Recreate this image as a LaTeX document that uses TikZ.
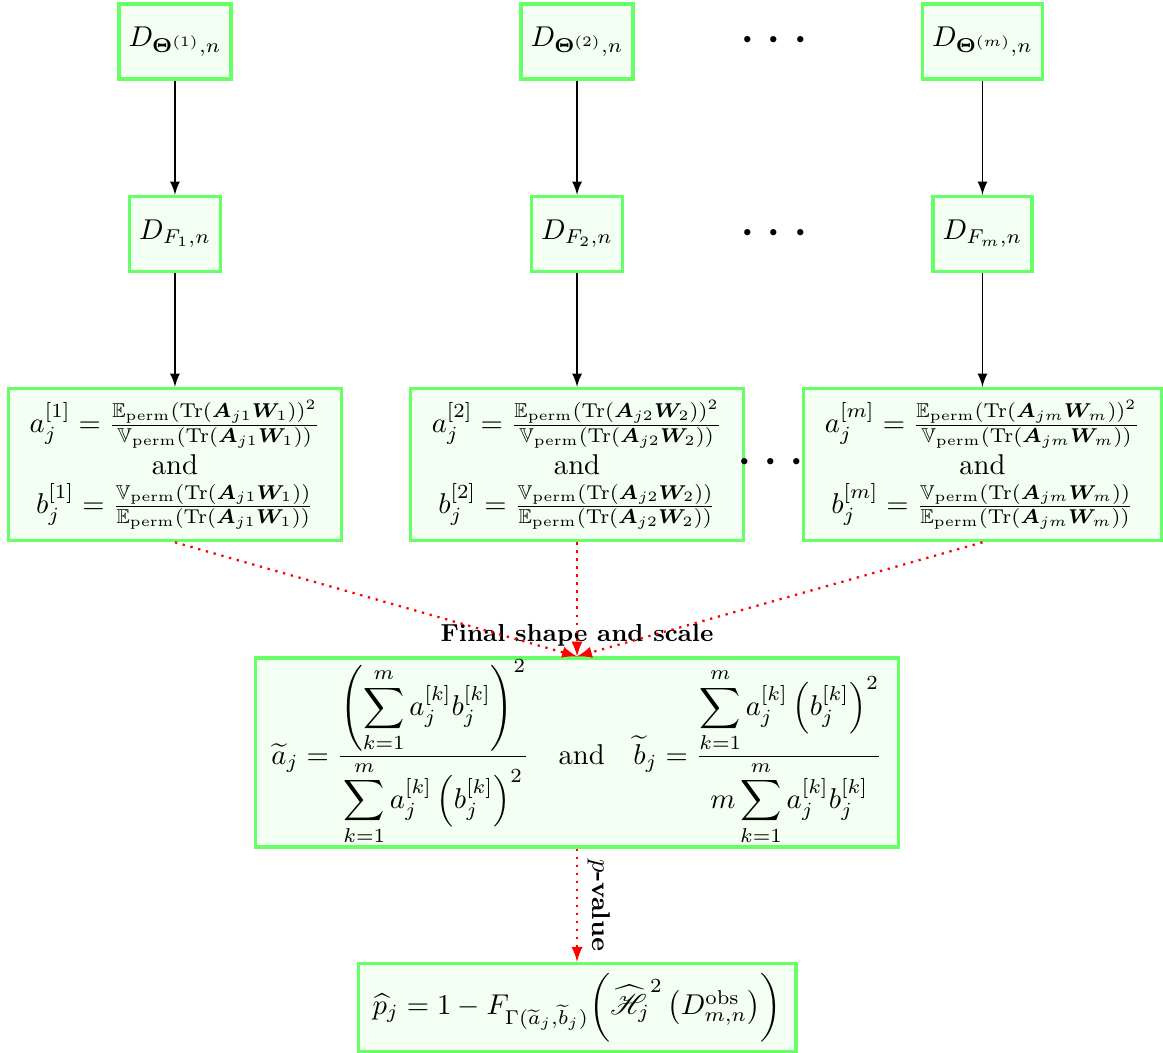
\documentclass[tikz,border=0pt]{standalone}
\usepackage{amsmath,amssymb,bm}
\usepackage{mathrsfs}
\usetikzlibrary{arrows}
\begin{document}
\begin{tikzpicture}[
        stat/.style={rectangle, draw=green!60, fill=green!5, very thick, minimum height=0.92cm, align=center},
        dots/.style={inner sep=0pt, font=\huge}
    ]
        \useasboundingbox (0,0) rectangle (14.27,-12.92);
        % Samples
        \node[stat] (th1) at (2.147,-0.509) {$D_{\bm{\Theta}^{(1)},n}$};
        \node[stat] (th2) at (7.080,-0.509) {$D_{\bm{\Theta}^{(2)},n}$};
        \node[dots] (dt1) at (9.56,-0.509) {$\cdots$};
        \node[stat] (th3) at (12.055,-0.509) {$D_{\bm{\Theta}^{(m)},n}$};
        
        % Distances
        \node[stat] (f1) at (2.147,-2.871) {$D_{F_1,n}$};
        \node[stat] (f2) at (7.080,-2.871) {$D_{F_2,n}$};
        \node[dots] (dt2) at (9.56,-2.871) {$\cdots$};
        \node[stat] (f3) at (12.055,-2.871) {$D_{F_m,n}$};
        
        % Shape and scale
        \node[stat, inner xsep=7.5pt, inner ysep=4pt] (ab1) at (2.147,-5.70) {$a_j^{[1]} = \frac{\mathbb{E}_{\mathrm{perm}}(\mathrm{Tr}(\bm{A}_{j1}\bm{W}_1))^2}{\mathbb{V}_{\mathrm{perm}}(\mathrm{Tr}(\bm{A}_{j1}\bm{W}_1))}$ \\[1.5pt] and \\[1.5pt] $b_j^{[1]} = \frac{\mathbb{V}_{\mathrm{perm}}(\mathrm{Tr}(\bm{A}_{j1}\bm{W}_1))}{\mathbb{E}_{\mathrm{perm}}(\mathrm{Tr}(\bm{A}_{j1}\bm{W}_1))}$};
        \node[stat, inner xsep=7.5pt, inner ysep=4pt] (ab2) at (7.080,-5.70) {$a_j^{[2]} = \frac{\mathbb{E}_{\mathrm{perm}}(\mathrm{Tr}(\bm{A}_{j2}\bm{W}_2))^2}{\mathbb{V}_{\mathrm{perm}}(\mathrm{Tr}(\bm{A}_{j2}\bm{W}_2))}$ \\[1.5pt] and \\[1.5pt] $b_j^{[2]} = \frac{\mathbb{V}_{\mathrm{perm}}(\mathrm{Tr}(\bm{A}_{j2}\bm{W}_2))}{\mathbb{E}_{\mathrm{perm}}(\mathrm{Tr}(\bm{A}_{j2}\bm{W}_2))}$};
        \node[stat, inner xsep=7.5pt, inner ysep=4pt] (ab3) at (12.055,-5.70) {$a_j^{[m]} = \frac{\mathbb{E}_{\mathrm{perm}}(\mathrm{Tr}(\bm{A}_{jm}\bm{W}_m))^2}{\mathbb{V}_{\mathrm{perm}}(\mathrm{Tr}(\bm{A}_{jm}\bm{W}_m))}$ \\[1.5pt] and \\[1.5pt] $b_j^{[m]} = \frac{\mathbb{V}_{\mathrm{perm}}(\mathrm{Tr}(\bm{A}_{jm}\bm{W}_m))}{\mathbb{E}_{\mathrm{perm}}(\mathrm{Tr}(\bm{A}_{jm}\bm{W}_m))}$};
        \node[dots] (dt3) at (9.52,-5.68) {$\cdots$};
        
        % Final
        \node[stat, inner xsep=5.6pt, inner ysep=0.5pt] (fin) at (7.080,-9.233) {$\displaystyle \widetilde{a}_j = \frac{\displaystyle\left(\sum_{k=1}^m a_j^{[k]} b_j^{[k]}\right)^2}{\displaystyle\sum_{k=1}^m a_j^{[k]}\left(b_j^{[k]}\right)^2} \quad \text{and} \quad \widetilde{b}_j = \frac{\displaystyle\sum_{k=1}^m a_j^{[k]}\left(b_j^{[k]}\right)^2}{\displaystyle m\sum_{k=1}^m a_j^{[k]} b_j^{[k]}}$};
        \node[above, font=\fontsize{8.6pt}{10pt}\selectfont\bfseries] (lbl) at (fin.north) {Final shape and scale};
        
        % p-value
        \node[stat, inner xsep=5pt] (pv) at (7.080,-12.36) {$\widehat{p}_j = 1 - F_{\Gamma(\widetilde{a}_j,\widetilde{b}_j)}\biggl(\widehat{\mathscr{H}_j}^2\left(D_{m,n}^{\mathrm{obs}}\right)\biggr)$};
        
        % Connections
        \draw[->, semithick, -latex] (th1) -- (f1);
        \draw[->, semithick, -latex] (th2) -- (f2);
        \draw[->, semithick, -latex] (th3) -- (f3);
        \draw[->, semithick, -latex] (f1) -- (ab1);
        \draw[->, semithick, -latex] (f2) -- (ab2);
        \draw[->, semithick, -latex] (f3) -- (ab3);
        \draw[->, thick, dotted, red, -latex] (ab1.south) -- (fin.north);
        \draw[->, thick, dotted, red, -latex] (ab2.south) -- (fin.north);
        \draw[->, thick, dotted, red, -latex] (ab3.south) -- (fin.north);
        \draw[->, thick, dotted, red, -latex] (fin) -- (pv) node[midway, above, sloped, text=black, font=\small] {\textbf{$p$-value}};
    \end{tikzpicture}
\end{document}
